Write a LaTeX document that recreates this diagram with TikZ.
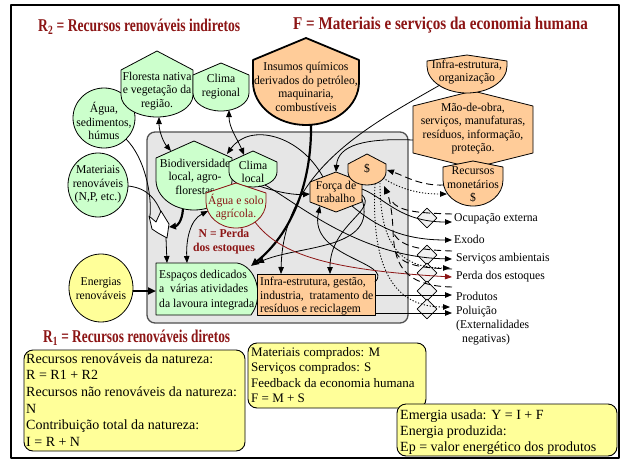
\documentclass[tikz,border=0pt]{standalone}
\usepackage{fontspec}
\setmainfont{Liberation Serif}
\newfontfamily\shapefont{Liberation Serif}[FakeStretch=0.97]
\newfontfamily\headfont{Liberation Serif}[FakeStretch=0.755]
\newfontfamily\headfontwide{Liberation Serif}[FakeStretch=0.84]
\newfontfamily\headfontnarrow{Liberation Serif}[FakeStretch=0.74]
\usetikzlibrary{arrows.meta,shapes.geometric}
\definecolor{leaf}{HTML}{CCFFCC}
\definecolor{peach}{HTML}{FFCC99}
\definecolor{note}{HTML}{FFFF99}
\definecolor{wine}{HTML}{8C1515}
\definecolor{panel}{HTML}{E6E6E6}
\definecolor{rim}{HTML}{505050}

% Odum "producer" outline: pointed roof, straight sides, rounded bottom
% #1 style, #2 centre x, #3 roof apex y, #4 shoulder y, #5 end of sides y,
% #6 half width, #7 depth of the rounded bottom
\newcommand{\prodshape}[7]{%
  \pgfmathsetmacro\psL{#2-#6}%
  \pgfmathsetmacro\psR{#2+#6}%
  \pgfmathsetmacro\psK{#5+0.5523*#7}%
  \pgfmathsetmacro\psB{#5+#7}%
  \pgfmathsetmacro\psCL{#2-0.5523*#6}%
  \pgfmathsetmacro\psCR{#2+0.5523*#6}%
  \draw[#1] (\psL,#5) -- (\psL,#4) -- (#2,#3) -- (\psR,#4) -- (\psR,#5)
    .. controls (\psR,\psK) and (\psCR,\psB) .. (#2,\psB)
    .. controls (\psCL,\psB) and (\psL,\psK) .. (\psL,#5) -- cycle;}

\begin{document}
\begin{tikzpicture}[x=1pt,y=-1pt,line join=round,
  flow/.style={line width=0.8pt,-{Triangle[length=7pt,width=5.5pt]}},
  bigflow/.style={line width=2.2pt,-{Triangle[length=8pt,width=7pt]}},
  twoway/.style={line width=0.8pt,{Triangle[length=7pt,width=5.5pt]}-{Triangle[length=7pt,width=5.5pt]}},
  money/.style={line width=0.9pt,dash pattern=on 7pt off 4pt},
  cash/.style={line width=0.9pt,dash pattern=on 1.2pt off 1.8pt},
  txt/.style={font=\shapefont\fontsize{12}{13.5}\selectfont,align=center,inner sep=0pt},
  lab/.style={font=\shapefont\fontsize{12}{14}\selectfont,align=left,inner sep=0pt,anchor=west},
  head/.style={font=\headfont\fontsize{18}{20}\selectfont\bfseries,text=wine,inner sep=0pt,anchor=west},
  greenfill/.style={draw,fill=leaf,line width=0.8pt},
  orangefill/.style={draw,fill=peach,line width=0.8pt},
  notebox/.style={draw,fill=note,rounded corners=9pt,line width=0.9pt},
  notetext/.style={align=left,inner sep=0pt,anchor=west},
  trade/.style={draw,diamond,fill=gray!10,minimum width=20pt,minimum height=20pt,inner sep=0pt,line width=0.7pt}]

\useasboundingbox (0,0) rectangle (624,461);
\fill[white] (0,0) rectangle (624,461);
\draw[line width=1.8pt] (11,5) rectangle (619,458);

% headings
\node[head] (r2title) at (38,27) {R\textsubscript{2} = Recursos renováveis indiretos};
\node[head,font=\headfontwide\fontsize{18}{20}\selectfont\bfseries] (ftitle) at (293,25) {F = Materiais e serviços da economia humana};
\node[head,font=\headfontnarrow\fontsize{18}{20}\selectfont\bfseries] (r1title) at (43,338) {R\textsubscript{1} = Recursos renováveis diretos};

% farm boundary
\draw[fill=panel,draw=rim,line width=1.3pt,rounded corners=8pt] (147,132) rectangle (408,323);

% transactions at the boundary
\node[trade] (t1) at (427,218) {};
\node[trade] (t2) at (427,255) {};
\node[trade] (t3) at (427,273) {};
\node[trade] (t4) at (427,291) {};
\node[trade] (t5) at (427,309) {};

% sources on the left
\draw[greenfill] (104,118) ellipse [x radius=31, y radius=30];
\node[txt] (agua) at (104,121) {Água,\\sedimentos,\\húmus};
\draw[greenfill] (98,185) ellipse [x radius=30, y radius=32];
\node[txt] (materiais) at (98,184.5) {Materiais\\renováveis\\(N,P, etc.)};
\draw[draw,fill=note,line width=0.8pt] (101,288) ellipse [x radius=32, y radius=34];
\node[txt] (energias) at (101,288.5) {Energias\\renováveis};

% regional producers
\prodshape{greenfill}{157}{51}{70}{95}{36}{22}
\node[txt] (floresta) at (157,91) {Floresta nativa\\e vegetação da\\região.};
\prodshape{greenfill}{221}{63}{75}{93}{28}{18}
\node[txt] (climareg) at (221,86.5) {Clima\\regional};

% purchased inputs
\prodshape{orangefill,line width=1.8pt}{306}{38}{60}{82}{53}{43}
\node[txt] (insumos) at (306,87) {Insumos químicos\\derivados do petróleo,\\maquinaria,\\combustíveis};
\draw[orangefill] (473,91) -- (533,106) -- (533,153) -- (473,168) -- (413,153) -- (413,106) -- cycle;
\node[txt] (maodeobra) at (473,128.5) {Mão-de-obra,\\serviços, manufaturas,\\resíduos, informação,\\proteção.};
\prodshape{orangefill}{467}{55}{61}{66}{40}{27}
\node[txt] (infraorg) at (467,72) {Infra-estrutura,\\organização};
\prodshape{orangefill}{473}{161}{167}{180}{30}{26}
\node[txt] (recursos) at (473,185) {Recursos\\monetários\\\$};

% components inside the farm
\prodshape{greenfill}{194}{141}{158}{180}{38}{30}
\node[txt] (biodiv) at (195,176.5) {Biodiversidade\\local, agro-\\florestas};
\prodshape{greenfill}{253}{151}{162}{172}{24}{15}
\node[txt] (climaloc) at (253,172) {Clima\\local};
\prodshape{greenfill,draw=wine}{236}{183}{193}{202}{30}{26}
\node[txt,text=wine] (solo) at (236,207) {Água e solo\\agrícola.};
\node[txt,font=\shapefont\fontsize{12}{14}\selectfont\bfseries,text=wine] (perda) at (224,242) {N = Perda\\dos estoques};

\draw[greenfill] (156,263) -- (237,263) .. controls (256,266) and (265,296) .. (251,315) -- (156,315) -- cycle;
\node[txt,align=left,anchor=west,font=\shapefont\fontsize{12}{14.5}\selectfont] (espacos) at (159,290) {Espaços dedicados\\a~ várias atividades\\da lavoura integrada};
\draw[orangefill] (257,274) rectangle (375,315);
\node[txt,align=left,anchor=west] (infragest) at (260,296.5) {Infra-estrutura, gestão,\\industria,~ tratamento de\\resíduos e reciclagem};
\draw[orangefill] (336,172) -- (362,182) -- (362,202) -- (336,212) -- (310,202) -- (310,182) -- cycle;
\node[txt] (forca) at (336,192) {Força de\\trabalho};
\prodshape{orangefill}{367}{154}{164}{172}{19}{13}
\node[txt] (caixa) at (367,169) {\$};

% interaction symbol
\draw[fill=white,line width=0.8pt] (149,216) -- (156,222) -- (161,211) -- (169,224) -- (167,238) -- (158,233) -- (152,229) -- cycle;
\coordinate (ixL) at (150,216);
\coordinate (ixR) at (161,212);
\coordinate (ixE) at (169,227);
\coordinate (ixS) at (166,238);

% attachment points on the outlines
\coordinate (flS) at (159,117);
\coordinate (bdNW) at (171,151);
\coordinate (crS) at (229,110);
\coordinate (clN) at (244,155);
\coordinate (fzNW) at (323,177);
\coordinate (bdNE) at (227,154);
\coordinate (inS) at (311,124);
\coordinate (esNE) at (251,266);
\coordinate (ioSW) at (440,85);
\coordinate (igN) at (281,274);
\coordinate (mdW) at (413,140);
\coordinate (fzN) at (336,172);
\coordinate (clSE) at (259,186);
\coordinate (fzW) at (310,194);
\coordinate (clS) at (265,185);
\coordinate (agSE) at (255,222);
\coordinate (fzE) at (362,189);
\coordinate (fzSE) at (352,206);
\coordinate (fzE2) at (362,195);
\coordinate (fzE3) at (362,199);
\coordinate (igN2) at (330,274);
\coordinate (esNE2) at (257,263);
\coordinate (igNE) at (375,282);
\coordinate (fzSW) at (320,206);
\coordinate (igE1) at (375,295);
\coordinate (igE2) at (375,313);
\coordinate (acSE) at (126,139);
\coordinate (mrE) at (128,186);
\coordinate (bdS) at (183,209);
\coordinate (esN1) at (167,263);
\coordinate (agSW) at (208,211);
\coordinate (esN2) at (187,263);
\coordinate (enE) at (133,291);
\coordinate (esW) at (156,291);
\coordinate (rmW) at (444,185);
\coordinate (cxE) at (387,170);
\coordinate (cxSE) at (383,178);
\coordinate (rmW2) at (447,194);
\coordinate (cxS1) at (380,183);
\coordinate (cxS2) at (375,184);
\coordinate (cxS) at (384,186);

% ends of the outgoing flows
\coordinate (ocIn) at (452,222);
\coordinate (exIn) at (452,240);
\coordinate (svIn) at (452,259);
\coordinate (peIn) at (452,277);
\coordinate (prIn) at (452,295);
\coordinate (poIn) at (452,313);

% regional exchanges
\draw[twoway] (flS) .. controls (159,132) and (164,143) .. (bdNW);
\draw[twoway] (crS) .. controls (229,128) and (238,140) .. (clN);

% inputs from the economy
\draw[bigflow] (inS) .. controls (312,185) and (290,235) .. (esNE);
\draw[flow] (ioSW) .. controls (370,125) and (283,170) .. (igN);
\draw[flow] (mdW) .. controls (365,138) and (338,145) .. (fzN);

% internal flows
\draw[flow] (fzNW) .. controls (300,135) and (250,122) .. (bdNE);
\draw[flow] (clSE) .. controls (280,193) and (295,195) .. (fzW);
\draw[flow] (fzE2) .. controls (378,210) and (330,225) .. (igN2);
\draw[flow] (fzE3) .. controls (378,250) and (300,245) .. (esNE2);
\draw[flow] (igNE) .. controls (395,262) and (308,258) .. (fzSW);
\draw[line width=0.8pt] (acSE) .. controls (145,158) and (152,195) .. (ixL);
\draw[line width=0.8pt] (mrE) .. controls (148,188) and (156,200) .. (ixR);
\draw[line width=2.2pt,-{Triangle[length=7pt,width=6.5pt]}] (bdS) .. controls (182,222) and (177,226) .. (ixE);
\draw[flow] (ixS) -- (esN1);
\draw[twoway] (agSW) .. controls (190,220) and (186,240) .. (esN2);
\draw[bigflow] (enE) -- (esW);

% outgoing flows
\draw[flow] (fzE) .. controls (385,198) and (400,222) .. (ocIn);
\draw[flow] (fzSE) .. controls (375,225) and (400,240) .. (exIn);
\draw[flow] (clS) .. controls (300,205) and (360,257) .. (svIn);
\draw[flow,draw=wine,-{Triangle[length=7pt,width=5.5pt,fill=wine]}] (agSE) .. controls (280,255) and (330,270) .. (peIn);
\draw[flow] (igE1) -- (prIn);
\draw[flow] (igE2) -- (poIn);

% money
\draw[money,-{Triangle[length=7pt,width=5.5pt]}] (rmW) .. controls (420,186) and (405,176) .. (cxE);
\draw[cash,-{Triangle[length=7pt,width=5.5pt]}] (cxSE) .. controls (405,192) and (425,194) .. (rmW2);
\draw[cash,-{Triangle[length=7pt,width=5.5pt]}] (cxS1) .. controls (380,245) and (400,268) .. (450,268);
\draw[cash,-{Triangle[length=7pt,width=5.5pt]}] (cxS2) .. controls (370,285) and (405,307) .. (450,307);
\draw[money,-{Triangle[length=8pt,width=6.5pt]}] (452,287) .. controls (400,286) and (394,260) .. (393,230) .. controls (392,205) and (388,195) .. (cxS);
\draw[money] (452,214) .. controls (420,213) and (398,212) .. (391,200);
\draw[money] (452,251) .. controls (420,250) and (400,247) .. (393,232);
\draw[money] (452,269) .. controls (420,268) and (400,265) .. (395,250);

% output labels
\node[lab] (ocup) at (454,219) {Ocupação externa};
\node[lab] (exodo) at (454,239) {Exodo};
\node[lab] (servicos) at (456,259) {Serviços ambientais};
\node[lab] (perdaout) at (456,277) {Perda dos estoques};
\node[lab] (produtos) at (456,296) {Produtos};
\node[lab,anchor=north west] (poluicao) at (456,306) {Poluição\\(Externalidades\\\hspace*{6pt}negativas)};

% legend boxes
\draw[notebox] (24,350) rectangle (245,451);
\node[notetext,font=\fontsize{14}{16.6}\selectfont] (natureza) at (26,400) {Recursos renováveis da natureza:\\R = R1 + R2\\Recursos não renováveis da natureza:\\N\\Contribuição total da natureza:\\I = R + N};
\draw[notebox] (248,343) rectangle (426,408);
\node[notetext,font=\fontsize{13}{15.3}\selectfont] (economia) at (251,375) {Materiais comprados: M\\Serviços comprados: S\\Feedback da economia humana\\F = M + S};
\draw[notebox] (397,404) rectangle (617,456);
\node[notetext,font=\fontsize{14}{16}\selectfont] (emergia) at (400,432) {Emergia usada: Y = I + F\\Energia produzida:\\Ep = valor energético dos produtos};
\end{tikzpicture}
\end{document}
